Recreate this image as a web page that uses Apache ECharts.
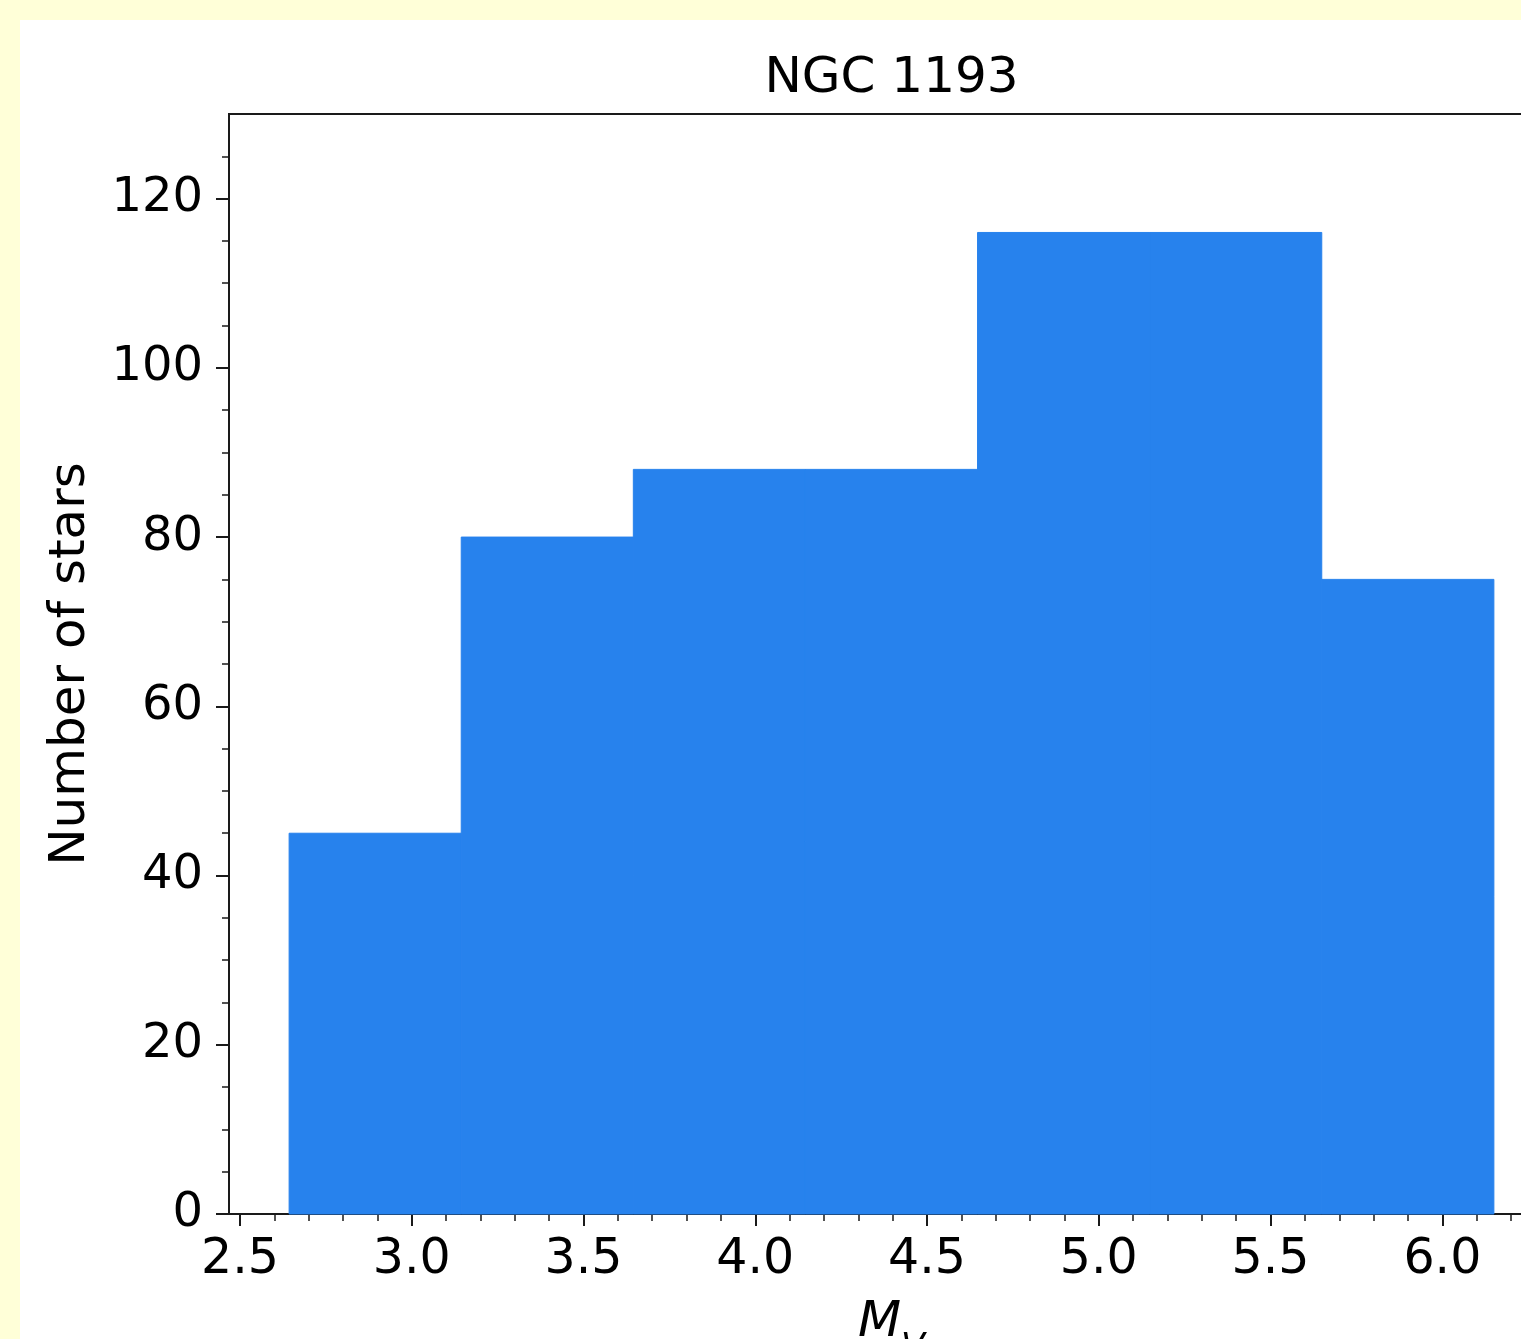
<!DOCTYPE html>
<html>
<head>
<meta charset="utf-8">
<script src="https://cdn.jsdelivr.net/npm/echarts@6/dist/echarts.min.js"></script>
<style>
  html, body { margin: 0; padding: 0; background: #ffffd8; overflow: hidden; width: 1521px; height: 1339px; }
  #chart { position: absolute; left: 20px; top: 20px; width: 1743px; height: 1400px; background: #ffffff; }
</style>
</head>
<body>
<div id="chart"></div>
<script>
// Histogram data (bin edges and counts)
const binEdges = [2.643, 3.144, 3.645, 4.146, 4.647, 5.148, 5.649, 6.150];
const counts = [45, 80, 88, 88, 116, 116, 75];
// Tick values
const xMajorTicks = [2.5, 3.0, 3.5, 4.0, 4.5, 5.0, 5.5, 6.0];
const xMinorTicks = [2.6, 2.7, 2.8, 2.9, 3.1, 3.2, 3.3, 3.4, 3.6, 3.7, 3.8, 3.9, 4.1, 4.2, 4.3, 4.4, 4.6, 4.7, 4.8, 4.9, 5.1, 5.2, 5.3, 5.4, 5.6, 5.7, 5.8, 5.9, 6.1, 6.2, 6.3];
const yMajorTicks = [0, 20, 40, 60, 80, 100, 120];
const yMinorTicks = [5, 10, 15, 25, 30, 35, 45, 50, 55, 65, 70, 75, 85, 90, 95, 105, 110, 115, 125];
const titleText = 'NGC 1193';
const yLabel = 'Number of stars';

const chart = echarts.init(document.getElementById('chart'), null, { renderer: 'canvas' });
const FONT = 'DejaVu Sans';
const AXC = '#1a1a1a';
const BAR = '#2782ed';
const barData = counts.map((c, i) => [binEdges[i], binEdges[i + 1], c]);

chart.setOption({
  animation: false,
  backgroundColor: '#ffffff',
  title: {
    text: titleText,
    left: 'center',
    top: 34,
    padding: 0,
    textStyle: { fontFamily: FONT, fontSize: 50, fontWeight: 'normal', color: '#000' }
  },
  grid: {
    left: 209, top: 94, width: 1325, height: 1100,
    show: true, borderColor: AXC, borderWidth: 2, backgroundColor: '#ffffff'
  },
  xAxis: [
    {
      type: 'value', min: 2.468, max: 6.325, position: 'bottom',
      axisLine: { show: true, onZero: false, lineStyle: { color: AXC, width: 2 } },
      axisTick: { show: true, customValues: xMajorTicks, length: 12, lineStyle: { color: AXC, width: 2 } },
      axisLabel: {
        show: true, customValues: xMajorTicks, margin: 22,
        formatter: v => v.toFixed(1),
        fontFamily: FONT, fontSize: 49, color: '#000'
      },
      splitLine: { show: false },
      name: '{i|M}{s|V}',
      nameLocation: 'middle',
      nameGap: 84,
      nameTextStyle: {
        rich: {
          i: { fontFamily: FONT, fontStyle: 'italic', fontSize: 50, color: '#000' },
          s: { fontFamily: FONT, fontStyle: 'italic', fontSize: 35, color: '#000', verticalAlign: 'bottom', padding: [0, 0, -18, 0] }
        }
      }
    },
    {
      type: 'value', min: 2.468, max: 6.325, position: 'bottom',
      axisLine: { show: false, onZero: false },
      axisTick: { show: true, customValues: xMinorTicks, length: 7, lineStyle: { color: AXC, width: 1.5 } },
      axisLabel: { show: false },
      splitLine: { show: false }
    }
  ],
  yAxis: [
    {
      type: 'value', min: 0, max: 130, position: 'left',
      axisLine: { show: true, onZero: false, lineStyle: { color: AXC, width: 2 } },
      axisTick: { show: true, customValues: yMajorTicks, length: 13, lineStyle: { color: AXC, width: 2 } },
      axisLabel: {
        show: true, customValues: yMajorTicks, margin: 26,
        fontFamily: FONT, fontSize: 48, color: '#000'
      },
      splitLine: { show: false },
      name: yLabel,
      nameLocation: 'middle',
      nameRotate: 90,
      nameGap: 133,
      nameTextStyle: { fontFamily: FONT, fontSize: 50, color: '#000' }
    },
    {
      type: 'value', min: 0, max: 130, position: 'left',
      axisLine: { show: false, onZero: false },
      axisTick: { show: true, customValues: yMinorTicks, length: 7, lineStyle: { color: AXC, width: 1.5 } },
      axisLabel: { show: false },
      splitLine: { show: false }
    }
  ],
  series: [
    {
      type: 'custom',
      xAxisIndex: 0,
      yAxisIndex: 0,
      z: 1,
      encode: { x: [0, 1], y: 2 },
      data: barData,
      renderItem: function (params, api) {
        const p0 = api.coord([api.value(0), api.value(2)]);
        const p1 = api.coord([api.value(1), 0]);
        return {
          type: 'rect',
          shape: { x: p0[0], y: p0[1], width: p1[0] - p0[0], height: p1[1] - p0[1] },
          style: { fill: BAR, stroke: BAR, lineWidth: 1 }
        };
      }
    }
  ]
});
</script>
</body>
</html>
